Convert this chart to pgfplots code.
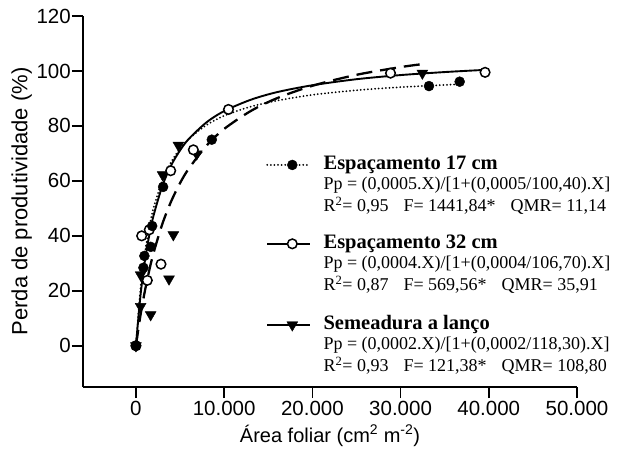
\documentclass[border=0pt]{standalone}
\usepackage{fontspec}
\setmainfont{Liberation Serif}
\newfontfamily\arial{Liberation Sans}
\usepackage{pgfplots}
\pgfplotsset{compat=1.18}

\begin{document}
\begin{tikzpicture}
\begin{axis}[
    at={(0,0)}, anchor=south west,
    scale only axis,
    width=494pt, height=371pt,
    xmin=-6000, xmax=50000,
    ymin=-15, ymax=120,
    axis lines=left,
    axis line style={-, line width=1.7pt},
    xtick={0,10000,...,50000},
    ytick={0,20,...,120},
    tick align=outside,
    major tick length=11pt,
    tick style={line width=1.7pt, black},
    scaled x ticks=false,
    xticklabel style={/pgf/number format/1000 sep={.}},
    yticklabel style={inner xsep=1pt},
    ticklabel style={font=\arial\fontsize{20.5}{20.5}\selectfont},
    /pgf/number format/assume math mode=true,
    xlabel={Área foliar (cm\textsuperscript{2} m\textsuperscript{-2})},
    ylabel={Perda de produtividade (\%)},
    xlabel style={font=\arial\fontsize{20}{20}\selectfont, yshift=-2pt},
    ylabel style={font=\arial\fontsize{22}{22}\selectfont},
    clip=false,
]

% fitted curves
\addplot[black, line width=2pt, line cap=round, dash pattern=on 0pt off 3.6pt, smooth] coordinates {
(0,0) (500,20.1) (1000,33.5) (1500,43.0) (2000,50.2) (3000,60.2) (4000,66.9)
(5000,71.7) (6000,75.3) (8000,80.3) (10000,83.7) (13000,87.0) (16000,89.2)
(20000,91.3) (25000,93.0) (30000,94.1) (36700,95.2)
};
\addplot[black, line width=1.9pt, smooth] coordinates {
(0,0) (500,17.8) (1000,30.5) (1500,40.0) (2000,47.4) (3000,58.2) (4000,65.7)
(5000,71.1) (6000,75.3) (8000,81.3) (10000,85.4) (13000,89.5) (16000,92.3)
(20000,94.8) (25000,97.0) (30000,98.5) (35000,99.6) (39580,100.4)
};
\addplot[black, line width=2.3pt, dash pattern=on 16pt off 8pt, smooth] coordinates {
(0,0) (500,10.8) (1000,19.7) (1500,27.3) (2000,33.8) (3000,44.4) (4000,52.6)
(5000,59.2) (6000,64.5) (8000,72.8) (10000,78.9) (13000,85.4) (16000,90.1)
(20000,94.6) (25000,98.6) (30000,101.4) (32500,102.5)
};

% observed values
\addplot[only marks, mark=triangle*, mark size=6.3pt, mark options={rotate=180, fill=black}] coordinates {
(0,0) (530,14.3) (1670,11.3) (530,25.8) (3750,24.3) (4240,40.4) (3030,62.2)
(4810,73.0) (6890,69.8) (32470,99.2)
};
\addplot[only marks, mark=*, mark size=4.8pt, mark options={fill=white, draw=black, line width=1.5pt}] coordinates {
(0,0) (650,40.0) (1290,23.8) (1515,42.2) (2840,29.7) (3940,63.7) (6510,71.3)
(10490,86.0) (28860,99.2) (39580,99.5)
};
\addplot[only marks, mark=*, mark size=5pt, mark options={fill=black}] coordinates {
(0,0) (850,28.4) (960,32.7) (1680,36.0) (1840,43.6) (3080,57.8) (8600,75.0)
(33220,94.5) (36700,96.1)
};

% legend samples
\addplot[black, line width=2pt, line cap=round, dash pattern=on 0pt off 3.6pt] coordinates {(14886,65.8) (19773,65.8)};
\addplot[only marks, mark=*, mark size=5pt, mark options={fill=black}] coordinates {(17727,65.8)};
\addplot[black, line width=1.9pt] coordinates {(14886,37.1) (19773,37.1)};
\addplot[only marks, mark=*, mark size=4.8pt, mark options={fill=white, draw=black, line width=1.5pt}] coordinates {(17727,37.1)};
\addplot[black, line width=2.5pt] coordinates {(14886,7.6) (19773,7.6)};
\addplot[only marks, mark=triangle*, mark size=6.3pt, mark options={rotate=180, fill=black}] coordinates {(17727,7.6)};

% legend text
\tikzset{lg/.style={anchor=west, inner sep=0pt, font=\fontsize{18}{18}\selectfont},
         lgt/.style={anchor=west, inner sep=0pt, font=\fontsize{20.5}{20.5}\selectfont\bfseries}}
\node[lgt] at (axis cs:21250,65.8) {Espaçamento 17 cm};
\node[lg] at (axis cs:21250,58.5) {Pp = (0,0005.X)/[1+(0,0005/100,40).X]};
\node[lg] at (axis cs:21250,50.9) {R\textsuperscript{2}= 0,95\hspace{15pt}F= 1441,84*\hspace{15pt}QMR= 11,14};
\node[lgt] at (axis cs:21250,37.1) {Espaçamento 32 cm};
\node[lg] at (axis cs:21250,29.8) {Pp = (0,0004.X)/[1+(0,0004/106,70).X]};
\node[lg] at (axis cs:21250,22.2) {R\textsuperscript{2}= 0,87\hspace{15pt}F= 569,56*\hspace{15pt}QMR= 35,91};
\node[lgt] at (axis cs:21250,7.6) {Semeadura a lanço};
\node[lg] at (axis cs:21250,0.4) {Pp = (0,0002.X)/[1+(0,0002/118,30).X]};
\node[lg] at (axis cs:21250,-7.3) {R\textsuperscript{2}= 0,93\hspace{15pt}F= 121,38*\hspace{15pt}QMR= 108,80};
\end{axis}
\pgfresetboundingbox
\path[use as bounding box] (-83pt,-76pt) rectangle (537pt,387pt);
\end{tikzpicture}
\end{document}
